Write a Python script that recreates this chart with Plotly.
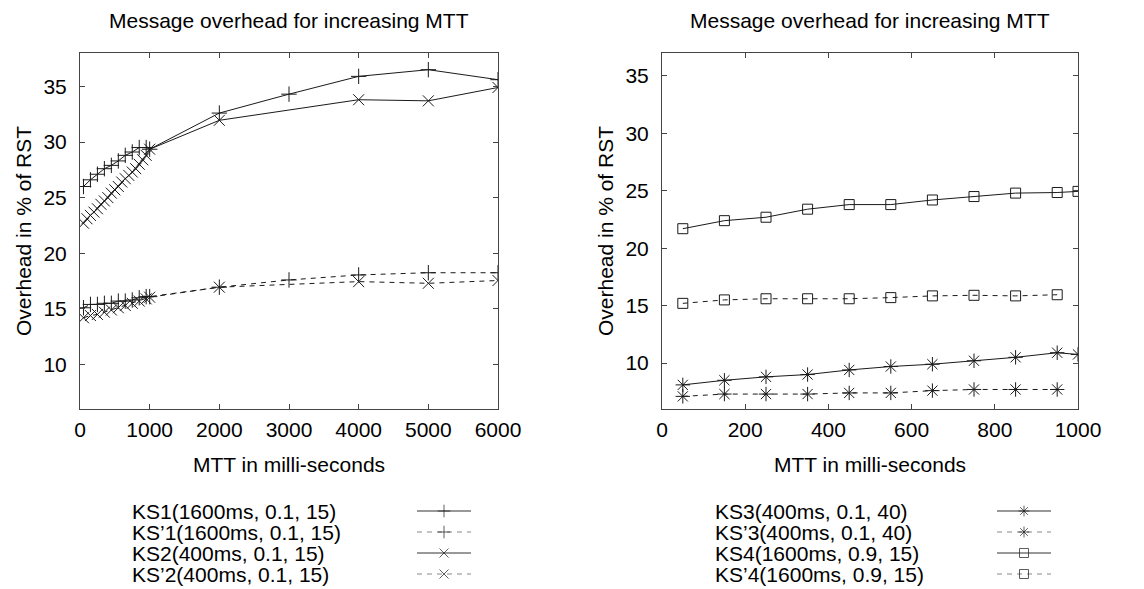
import plotly.graph_objects as go

# The page body adds an 8px margin; work in screenshot pixels and shift.
OFF = 8
W, H = 1144 - OFF, 589 - OFF
FONT = "Liberation Sans, Arial, Helvetica, sans-serif"

# ---------------- data ----------------
titles = ["Message overhead for increasing MTT", "Message overhead for increasing MTT"]
xlabel = "MTT in milli-seconds"
ylabel = "Overhead in % of RST"

# Left panel
ks1_x = [50, 150, 250, 350, 450, 550, 650, 750, 850, 950, 1000, 2000, 3000, 4000, 5000, 6000]
ks1_y = [26.0, 26.6, 27.1, 27.6, 27.9, 28.3, 28.8, 29.1, 29.5, 29.5, 29.35, 32.6, 34.3, 35.9, 36.5, 35.6]

ks1p_x = [50, 150, 250, 350, 450, 550, 650, 750, 850, 950, 1000, 2000, 3000, 4000, 5000, 6000]
ks1p_y = [15.1, 15.4, 15.4, 15.5, 15.5, 15.7, 15.7, 15.8, 16.0, 16.1, 16.1, 16.95, 17.6, 18.05, 18.25, 18.25]

ks2_x = [50, 100, 150, 200, 250, 300, 350, 400, 450, 500, 550, 600, 650, 700, 750, 800,
         850, 900, 950, 1000, 2000, 4000, 5000, 6000]
ks2_y = [22.7, 23.1, 23.4, 23.7, 24.0, 24.4, 24.7, 25.0, 25.4, 25.7, 26.0, 26.4, 26.7, 27.0,
         27.3, 27.6, 28.0, 28.4, 28.8, 29.35, 31.95, 33.8, 33.7, 34.9]

ks2p_x = [50, 150, 250, 350, 450, 550, 650, 750, 850, 950, 1000, 2000, 4000, 5000, 6000]
ks2p_y = [14.2, 14.4, 14.5, 14.7, 14.9, 15.1, 15.3, 15.5, 15.7, 15.9, 16.05, 16.95, 17.45, 17.3, 17.55]

# Right panel
r_x = [50, 150, 250, 350, 450, 550, 650, 750, 850, 950, 1000]
ks3_y = [8.1, 8.5, 8.8, 9.0, 9.4, 9.7, 9.9, 10.2, 10.5, 10.9, 10.75]
ks3p_y = [7.1, 7.3, 7.3, 7.3, 7.4, 7.4, 7.6, 7.7, 7.7, 7.7]
ks4_y = [21.7, 22.4, 22.7, 23.4, 23.8, 23.8, 24.2, 24.5, 24.8, 24.85, 24.95]
ks4p_y = [15.2, 15.5, 15.6, 15.6, 15.6, 15.7, 15.85, 15.9, 15.85, 15.95]

left_ticks_x = [0, 1000, 2000, 3000, 4000, 5000, 6000]
right_ticks_x = [0, 200, 400, 600, 800, 1000]
ticks_y = [10, 15, 20, 25, 30, 35]

left_names = ["KS1(1600ms, 0.1, 15)", "KS\u20191(1600ms, 0.1, 15)",
              "KS2(400ms, 0.1, 15)", "KS\u20192(400ms, 0.1, 15)"]
right_names = ["KS3(400ms, 0.1, 40)", "KS\u20193(400ms, 0.1, 40)",
               "KS4(1600ms, 0.9, 15)", "KS\u20194(1600ms, 0.9, 15)"]

# ---------------- styles ----------------
LINE = "#1a1a1a"
DASH = "5px,5px"
styles_left = [
    dict(dash="solid", symbol="cross-thin-open", size=11),
    dict(dash=DASH, symbol="cross-thin-open", size=11),
    dict(dash="solid", symbol="x-thin-open", size=11),
    dict(dash=DASH, symbol="x-thin-open", size=11),
]
styles_right = [
    dict(dash="solid", symbol="asterisk-open", size=12),
    dict(dash=DASH, symbol="asterisk-open", size=12),
    dict(dash="solid", symbol="square-open", size=10),
    dict(dash=DASH, symbol="square-open", size=10),
]


def px_x(p):
    return (p - OFF) / W


def px_y(p):
    return 1 - (p - OFF) / H


fig = go.Figure()


def add_series(x, y, st, xa, ya):
    fig.add_trace(go.Scatter(
        x=x, y=y, mode="lines+markers", xaxis=xa, yaxis=ya, showlegend=False,
        line=dict(color=LINE, width=1, dash=st["dash"]),
        marker=dict(symbol=st["symbol"], size=st["size"], color=LINE,
                    line=dict(color=LINE, width=1)),
        hoverinfo="x+y"))


left_data = [(ks1_x, ks1_y), (ks1p_x, ks1p_y), (ks2_x, ks2_y), (ks2p_x, ks2p_y)]
right_data = [(r_x, ks3_y), (r_x[:len(ks3p_y)], ks3p_y), (r_x, ks4_y), (r_x[:len(ks4p_y)], ks4p_y)]
for (x, y), st in zip(left_data, styles_left):
    add_series(x, y, st, "x", "y")
for (x, y), st in zip(right_data, styles_right):
    add_series(x, y, st, "x2", "y2")

# ---------------- legend (custom, text left / sample right) ----------------
rows = [511, 532, 553, 574]
legend_defs = [(130, 417, 471, left_names, styles_left),
               (713, 997, 1051, right_names, styles_right)]
annotations = []
for tx, s0, s1, names, sts in legend_defs:
    for r, name, st in zip(rows, names, sts):
        annotations.append(dict(x=px_x(tx), y=px_y(r), xref="paper", yref="paper",
                                text=name, showarrow=False, xanchor="left", yanchor="middle",
                                font=dict(family=FONT, size=21, color="black")))
        fig.add_trace(go.Scatter(
            x=[s0, (s0 + s1) / 2, s1], y=[r, r, r], mode="lines+markers",
            xaxis="x3", yaxis="y3", showlegend=False, hoverinfo="skip",
            line=dict(color="#333" if st["dash"] == "solid" else "#888", width=1, dash=st["dash"]),
            marker=dict(symbol=st["symbol"], size=[0, 9, 0], color=LINE,
                        line=dict(color=LINE, width=1))))

# titles
for cx, t in zip([289, 870], titles):
    annotations.append(dict(x=px_x(cx), y=1, xref="paper", yref="paper", text=t,
                            showarrow=False, xanchor="center", yanchor="top", borderpad=0,
                            font=dict(family=FONT, size=21, color="black")))

ydom = [px_y(409), px_y(53)]
axis_common = dict(showline=True, linecolor="#444", linewidth=1, mirror="ticks",
                   ticks="inside", ticklen=5, tickcolor="#444", showgrid=False, zeroline=False,
                   tickfont=dict(family=FONT, size=21, color="black"))

fig.update_layout(
    width=W, height=H, margin=dict(l=0, r=0, t=0, b=0, autoexpand=False),
    paper_bgcolor="white", plot_bgcolor="rgba(0,0,0,0)",
    font=dict(family=FONT, size=21, color="black"),
    xaxis=dict(domain=[px_x(80), px_x(498)], range=[0, 6000], tickvals=left_ticks_x,
               anchor="y", ticklabelstandoff=2,
               title=dict(text=xlabel, standoff=17, font=dict(family=FONT, size=21)), **axis_common),
    yaxis=dict(domain=ydom, range=[6, 38], tickvals=ticks_y, anchor="x", ticklabelstandoff=8,
               title=dict(text=ylabel, standoff=6, font=dict(family=FONT, size=21)), **axis_common),
    xaxis2=dict(domain=[px_x(662), px_x(1078)], range=[0, 1000], tickvals=right_ticks_x,
                anchor="y2", ticklabelstandoff=2,
                title=dict(text=xlabel, standoff=17, font=dict(family=FONT, size=21)), **axis_common),
    yaxis2=dict(domain=ydom, range=[6, 37], tickvals=ticks_y, anchor="x2", ticklabelstandoff=8,
                title=dict(text=ylabel, standoff=6, font=dict(family=FONT, size=21)), **axis_common),
    xaxis3=dict(domain=[0, 1], range=[OFF, OFF + W], visible=False, fixedrange=True),
    yaxis3=dict(domain=[0, 1], range=[OFF + H, OFF], visible=False, fixedrange=True, anchor="x3"),
    annotations=annotations,
)

fig.write_html("out.html")
